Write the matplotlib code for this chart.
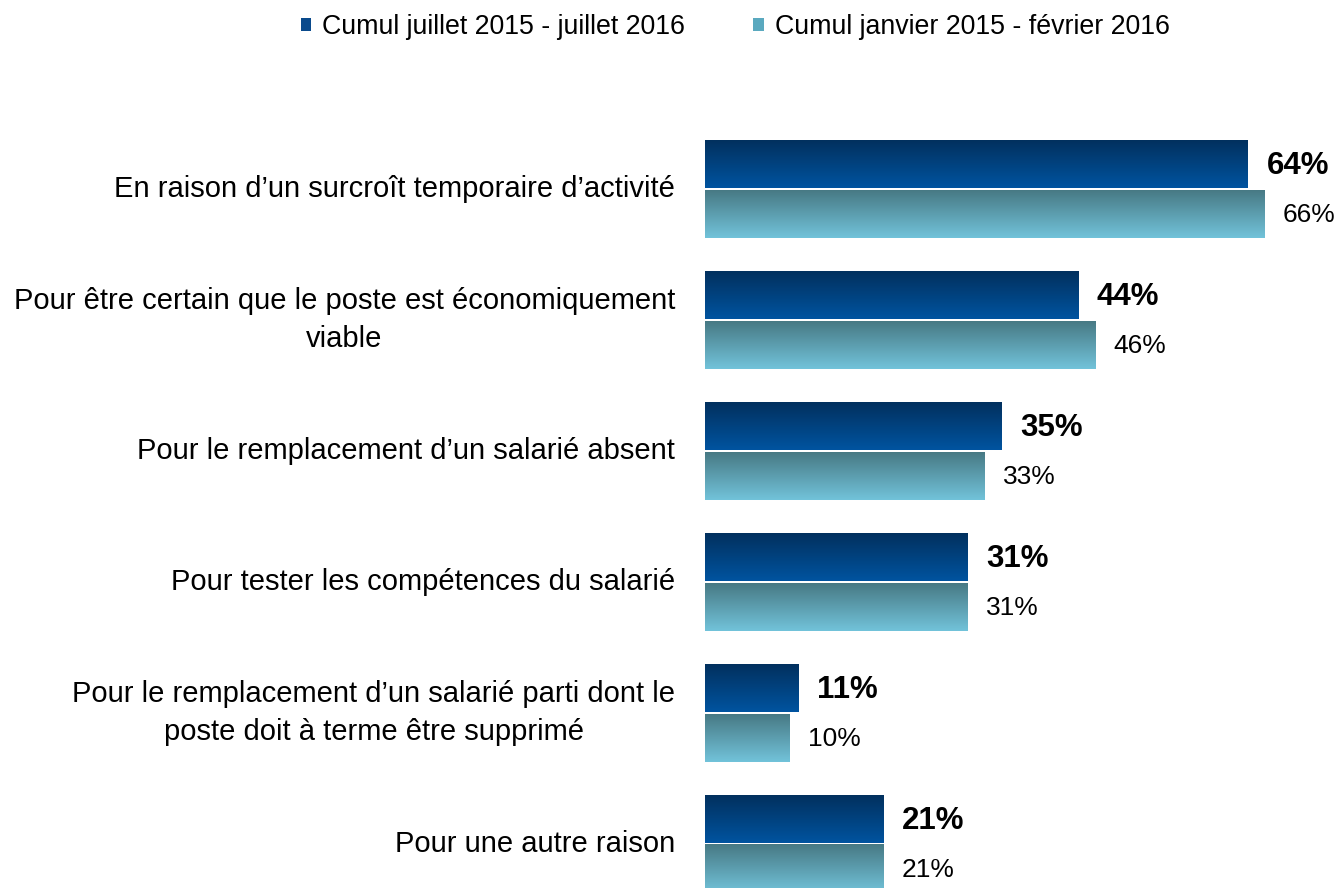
import numpy as np
import matplotlib
matplotlib.use("Agg")
import matplotlib.pyplot as plt
from matplotlib.colors import LinearSegmentedColormap
from matplotlib.patches import Patch

plt.rcParams['font.family'] = ['Liberation Sans', 'DejaVu Sans']

categories = [
    "En raison d\u2019un surcro\u00eet temporaire d\u2019activit\u00e9",
    "Pour \u00eatre certain que le poste est \u00e9conomiquement\nviable",
    "Pour le remplacement d\u2019un salari\u00e9 absent",
    "Pour tester les comp\u00e9tences du salari\u00e9",
    "Pour le remplacement d\u2019un salari\u00e9 parti dont le\nposte doit \u00e0 terme \u00eatre supprim\u00e9",
    "Pour une autre raison",
]
juillet_2016 = [64, 44, 35, 31, 11, 21]
fevrier_2016 = [66, 46, 33, 31, 10, 21]
series_names = ["Cumul juillet 2015 - juillet 2016", "Cumul janvier 2015 - f\u00e9vrier 2016"]

dark_cmap = LinearSegmentedColormap.from_list("dark", ["#02305e", "#0054a0"])
light_cmap = LinearSegmentedColormap.from_list("light", ["#477984", "#72c3da"])

fig = plt.figure(figsize=(13.39, 8.88), dpi=100)
ax = fig.add_axes([705 / 1339, 0, 634 / 1339, 1])

bar_h = 48 / 131
gap = 2 / 131
grad = np.linspace(0, 1, 256).reshape(-1, 1)


def gradient_bar(ax, value, top, cmap):
    ax.imshow(grad, cmap=cmap, aspect='auto', origin='upper',
              extent=(0, value, top + bar_h, top), interpolation='bicubic')


for i, cat in enumerate(categories):
    top_dark = i - gap / 2 - bar_h
    top_light = i + gap / 2
    gradient_bar(ax, juillet_2016[i], top_dark, dark_cmap)
    gradient_bar(ax, fevrier_2016[i], top_light, light_cmap)

    ax.annotate(f"{juillet_2016[i]}%", xy=(juillet_2016[i], top_dark + bar_h / 2),
                xytext=(13.5, -1.5), textcoords='offset points', ha='left', va='center',
                fontsize=22.5, fontweight='bold', color='black')
    ax.annotate(f"{fevrier_2016[i]}%", xy=(fevrier_2016[i], top_light + bar_h / 2),
                xytext=(13, -1), textcoords='offset points', ha='left', va='center',
                fontsize=19, color='black')
    ax.annotate(cat, xy=(0, i), xytext=(-21.5, 0), textcoords='offset points',
                ha='right', va='center', multialignment='center', linespacing=1.48,
                fontsize=21, color='black', annotation_clip=False)

ax.set_xlim(0, 634 / 8.48)
ax.set_ylim(5.336, -1.443)
ax.axis('off')

handles = [Patch(facecolor="#0a4a8c"), Patch(facecolor="#5aa9bf")]
fig.legend(handles, series_names, loc='center', bbox_to_anchor=(735 / 1339, 1 - 27 / 888),
           ncol=2, frameon=False, fontsize=19.3, handlelength=0.4, handleheight=0.4,
           handletextpad=0.4, columnspacing=2.55)

fig.savefig("out.png", dpi=100)
